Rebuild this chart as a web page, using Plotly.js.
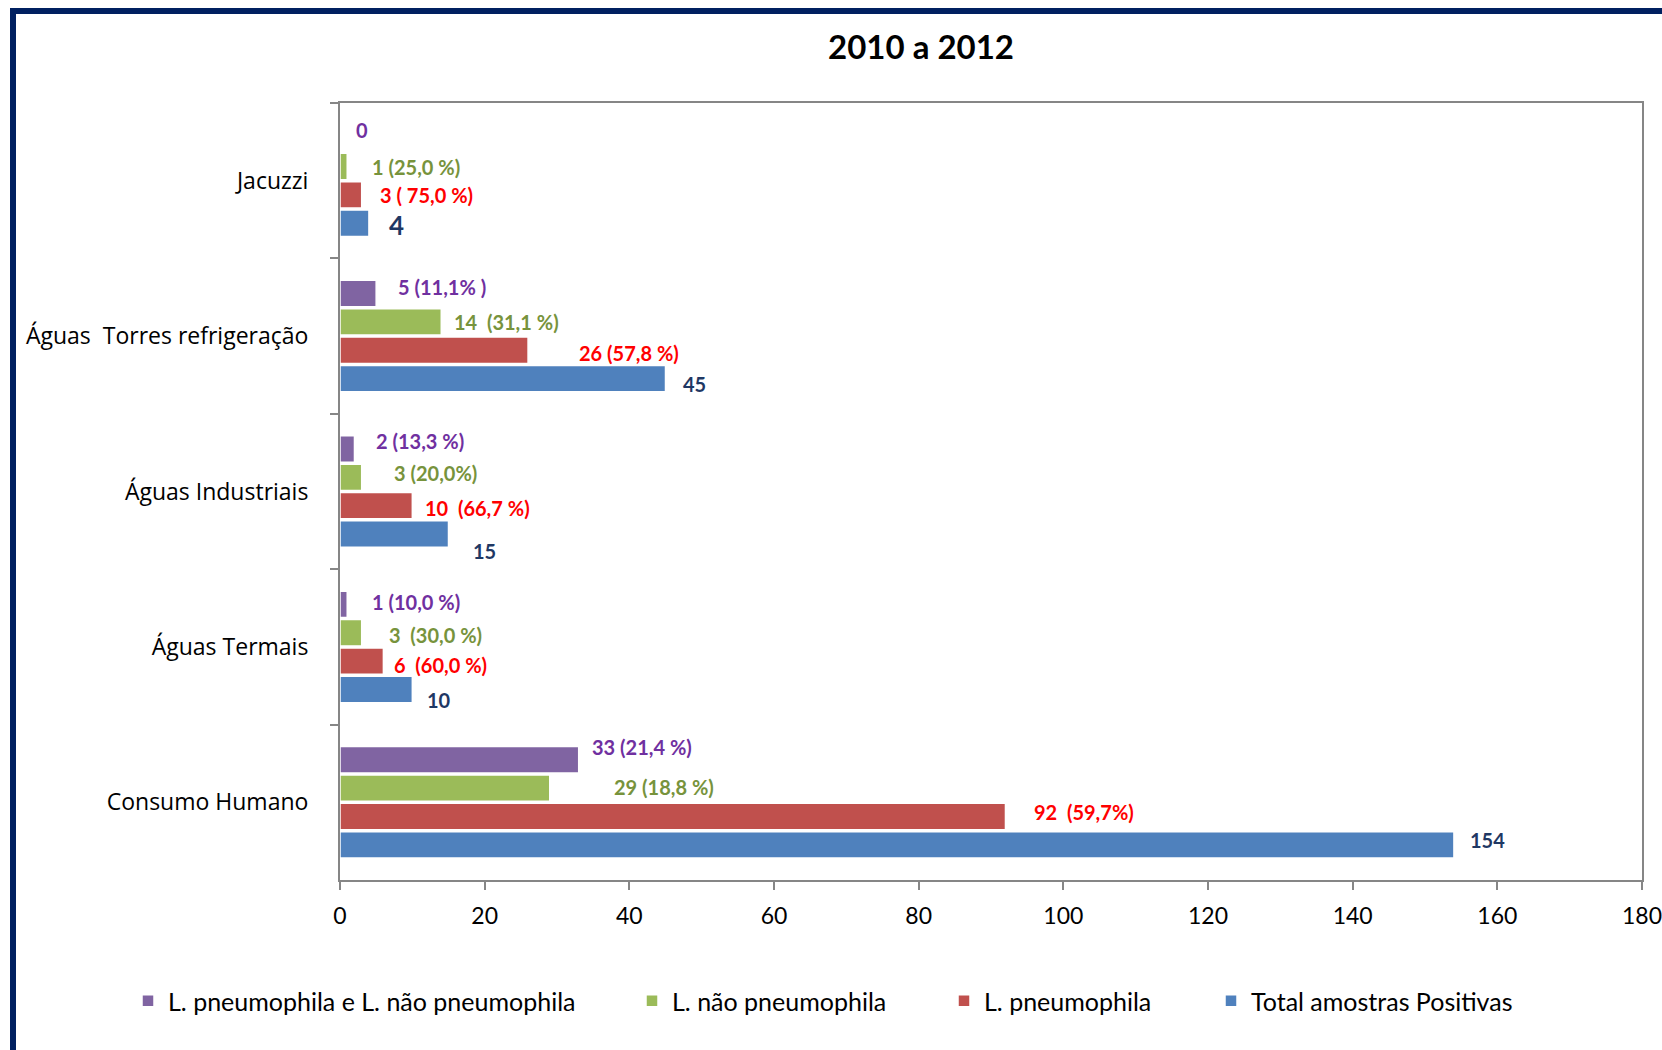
<!DOCTYPE html>
<html>
<head>
<meta charset="utf-8">
<script src="https://cdn.plot.ly/plotly-3.0.1.min.js"></script>
<style>html,body{margin:0;padding:0;background:#fff;}#chart{width:1662px;height:1050px;}</style>
</head>
<body>
<div id="chart"></div>
<script>
// ---- data ----
const categories = ["Jacuzzi", "Águas  Torres refrigeração", "Águas Industriais", "Águas Termais", "Consumo Humano"];
const seriesNames = ["L. pneumophila e L. não pneumophila", "L. não pneumophila", "L. pneumophila", "Total amostras Positivas"];
const mixedValues = [0, 5, 2, 1, 33];
const naoPneumValues = [1, 14, 3, 3, 29];
const pneumValues = [3, 26, 10, 6, 92];
const totalValues = [4, 45, 15, 10, 154];
const mixedLabels = ["0", "5 (11,1% )", "2 (13,3 %)", "1 (10,0 %)", "33 (21,4 %)"];
const naoPneumLabels = ["1 (25,0 %)", "14  (31,1 %)", "3 (20,0%)", "3  (30,0 %)", "29 (18,8 %)"];
const pneumLabels = ["3 ( 75,0 %)", "26 (57,8 %)", "10  (66,7 %)", "6  (60,0 %)", "92  (59,7%)"];
const totalLabels = ["4", "45", "15", "10", "154"];
const xTicks = [0, 20, 40, 60, 80, 100, 120, 140, 160, 180];
const chartTitle = "2010 a 2012";

// ---- styles / layout config ----
const keepSpaces = s => s.replace(/  /g, " \u00a0");
const W = 1662, H = 1050;
const M = {l: 340, r: 20, t: 103, b: 170};
const barColors = ["#8064A2", "#9BBB59", "#C0504D", "#4F81BD"];
const labelColors = ["#7030A0", "#77933C", "#FF0000", "#1F3864"];
const bargap = 0.27, bargroupgap = 0.07;
const values = [mixedValues, naoPneumValues, pneumValues, totalValues];
const labels = [mixedLabels, naoPneumLabels, pneumLabels, totalLabels];
// label nudges in pixels (as placed in the original)
const labelXShift = [[14, 20, 20, 23, 11], [23, 11, 30, 25, 62], [16, 49, 11, 9, 27], [18, 15, 22, 13, 14]];
const labelYShift = [[8, 7, 8, 2, 13], [0, 0, 4, -2, 1], [0, -3, -2, -4, 4], [-2, -5, -17, -11, 5]];
const labelSize = [[20,20,20,20,20],[20,20,20,20,20],[20,20,20,20,20],[26,20,20,20,20]];
const legendX = [128, 632, 944, 1211];

const cats = categories.map(keepSpaces);
const traces = values.map((v, i) => ({
  type: "bar", orientation: "h",
  name: seriesNames[i],
  y: cats, x: v,
  marker: {color: barColors[i], line: {color: "#ffffff", width: 1.5}},
  legend: i === 0 ? "legend" : "legend" + (i + 1),
  hoverinfo: "x+name"
}));

const annotations = [];
const groupW = 1 - bargap;
values.forEach((v, i) => {
  const off = -groupW / 2 + (i + 0.5) * groupW / values.length;
  v.forEach((val, c) => {
    annotations.push({
      x: val, y: c + off, xref: "x", yref: "y",
      text: "<b>" + keepSpaces(labels[i][c]) + "</b>",
      showarrow: false, xanchor: "left", yanchor: "middle",
      xshift: labelXShift[i][c], yshift: labelYShift[i][c],
      font: {family: "Lato, sans-serif", size: labelSize[i][c], color: labelColors[i]}
    });
  });
});

const pw = W - M.l - M.r, ph = H - M.t - M.b;
const px2x = p => (p - M.l) / pw;
const py2y = p => (H - M.b - p) / ph;

const legendBase = {
  orientation: "h", xref: "container", yref: "container",
  y: 1 - 1001 / H, yanchor: "middle", xanchor: "left",
  font: {family: "Lato, sans-serif", size: 25, color: "#000"},
  bgcolor: "rgba(0,0,0,0)", borderwidth: 0
};
const layout = {
  width: W, height: H,
  margin: M,
  paper_bgcolor: "#ffffff", plot_bgcolor: "#ffffff",
  barmode: "group", bargap: bargap, bargroupgap: bargroupgap,
  showlegend: true,
  title: {
    text: "<b>" + chartTitle + "</b>",
    x: 921 / W, xref: "container", xanchor: "center",
    y: 1 - 47 / H, yref: "container", yanchor: "middle",
    font: {family: "Lato, sans-serif", size: 33, color: "#000"}
  },
  xaxis: {
    range: [xTicks[0], xTicks[xTicks.length - 1]],
    tickvals: xTicks, ticktext: xTicks.map(String),
    ticks: "outside", ticklen: 8, tickwidth: 2, tickcolor: "#868686",
    showline: true, linecolor: "#868686", linewidth: 2, mirror: true,
    showgrid: false, zeroline: false,
    tickfont: {family: "Lato, sans-serif", size: 23, color: "#000"},
    ticklabelstandoff: 6, ticklabeloverflow: "allow", fixedrange: true
  },
  yaxis: {
    type: "category", autorange: "reversed",
    tickson: "boundaries",
    ticks: "outside", ticklen: 8, tickwidth: 2, tickcolor: "#868686",
    showline: true, linecolor: "#868686", linewidth: 2, mirror: true,
    showgrid: false, zeroline: false,
    tickfont: {family: "Open Sans", size: 23, color: "#000"},
    ticklabelstandoff: 25, fixedrange: true
  },
  annotations: annotations,
  shapes: [{
    type: "rect", xref: "paper", yref: "paper",
    x0: px2x(13), x1: px2x(W + 60), y0: py2y(H + 60), y1: py2y(11),
    line: {color: "#002060", width: 6}, fillcolor: "rgba(0,0,0,0)", layer: "above"
  }]
};
legendX.forEach((lx, i) => {
  layout[i === 0 ? "legend" : "legend" + (i + 1)] = Object.assign({}, legendBase, {x: lx / W});
});

Plotly.newPlot("chart", traces, layout, {displayModeBar: false, responsive: false});
</script>
</body>
</html>
